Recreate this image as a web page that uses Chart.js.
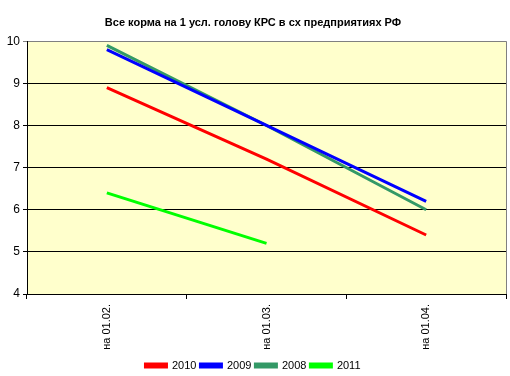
<!DOCTYPE html>
<html>
<head>
<meta charset="utf-8">
<script src="https://cdn.jsdelivr.net/npm/chart.js@4/dist/chart.umd.min.js"></script>
<style>
  html, body { margin: 0; padding: 0; background: #fff; }
  canvas { display: block; }
</style>
</head>
<body>
<canvas id="c" width="510" height="376"></canvas>
<script>
// categories and series
const categories = ['на 01.02.', 'на 01.03.', 'на 01.04.'];
const s2010 = [8.9, 7.2, 5.4];
const s2009 = [9.8, 8.0, 6.2];
const s2008 = [9.9, 8.0, 6.0];
const s2011 = [6.4, 5.2, null];
const yTicks = [4, 5, 6, 7, 8, 9, 10];

const FONT = 'Arial, "Liberation Sans", sans-serif';

// plot background + gray right border
const plotFrame = {
  id: 'plotFrame',
  beforeDraw(chart){
    const { ctx, chartArea: a } = chart;
    ctx.save();
    ctx.fillStyle = '#FFFFCC';
    ctx.fillRect(a.left, a.top, a.right - a.left, a.bottom - a.top);
    ctx.restore();
  },
  afterDraw(chart){
    const { ctx, chartArea: a } = chart;
    ctx.save();
    ctx.strokeStyle = '#808080';
    ctx.lineWidth = 1;
    ctx.beginPath();
    ctx.moveTo(a.right + 0.5, a.top);
    ctx.lineTo(a.right + 0.5, a.bottom);
    ctx.stroke();
    ctx.restore();
  }
};

const mk = (label, data, color) => ({
  label, data,
  borderColor: color,
  backgroundColor: color,
  borderWidth: 3,
  pointRadius: 0,
  tension: 0,
  spanGaps: false
});

new Chart(document.getElementById('c'), {
  type: 'line',
  data: {
    labels: categories,
    datasets: [
      mk('2010', s2010, '#FF0000'),
      mk('2009', s2009, '#0000FF'),
      mk('2008', s2008, '#339966'),
      mk('2011', s2011, '#00FF00')
    ]
  },
  options: {
    responsive: false,
    animation: false,
    layout: { padding: { left: 0, right: 4, top: 0, bottom: -5 } },
    plugins: {
      title: {
        display: true,
        text: 'Все корма на 1 усл. голову КРС в сх предприятиях РФ',
        color: '#000',
        font: { family: FONT, size: 11, weight: 'bold' },
        padding: { top: 16, bottom: 12 }
      },
      legend: {
        position: 'bottom',
        labels: {
          color: '#000',
          font: { family: FONT, size: 11 },
          boxWidth: 21,
          boxHeight: 3,
          padding: 4
        }
      },
      tooltip: { enabled: false }
    },
    scales: {
      x: {
        offset: true,
        grid: {
          offset: true,
          drawOnChartArea: false,
          color: '#000',
          tickLength: 5
        },
        border: { color: '#000', width: 1 },
        ticks: {
          color: '#000',
          font: { family: FONT, size: 11 },
          minRotation: 90,
          maxRotation: 90,
          padding: 5
        },
        afterFit(s){ s.height = 62; }
      },
      y: {
        min: 4,
        max: 10,
        afterBuildTicks(s){ s.ticks = yTicks.map(v => ({ value: v })); },
        grid: {
          color: (c) => c.tick && c.tick.value === 10 ? '#808080' : '#000',
          tickLength: 4,
          drawTicks: true
        },
        border: { color: '#000', width: 1 },
        ticks: {
          color: '#000',
          font: { family: FONT, size: 12 },
          padding: 3
        },
        afterFit(s){ s.width = 27; }
      }
    }
  },
  plugins: [plotFrame]
});
</script>
</body>
</html>
